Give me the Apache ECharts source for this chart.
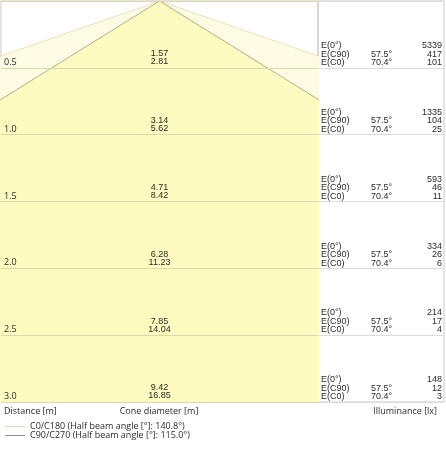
<!DOCTYPE html>
<html><head><meta charset="utf-8">
<script src="https://cdn.jsdelivr.net/npm/echarts@6/dist/echarts.min.js"></script>
<style>html,body{margin:0;padding:0;background:#fff}#c{width:446px;height:450px}</style>
</head><body><div id="c"></div>
<script>
const distances = [0.5, 1.0, 1.5, 2.0, 2.5, 3.0];
const coneDiamC90 = [1.57, 3.14, 4.71, 6.28, 7.85, 9.42];
const coneDiamC0 = [2.81, 5.62, 8.42, 11.23, 14.04, 16.85];
const illumCenter = [5339, 1335, 593, 334, 214, 148];
const illumC90 = [417, 104, 46, 26, 17, 12];
const illumC0 = [101, 25, 11, 6, 4, 3];
const halfAngleC90 = 57.5;
const halfAngleC0 = 70.4;
const beamAngleC0 = 140.8;
const beamAngleC90 = 115.0;
const rowLabels = ['E(0°)', 'E(C90)', 'E(C0)'];
const legendNames = [
  'C0/C180 (Half beam angle [°]: ' + beamAngleC0.toFixed(1) + '°)',
  'C90/C270 (Half beam angle [°]: ' + beamAngleC90.toFixed(1) + '°)'
];

const FONT = '"Open Sans"';
const TXT = '#2b2b2b';
const last = distances.length - 1;
const maxD = distances[last];
const wC0 = coneDiamC0[last] / 2, wC90 = coneDiamC90[last] / 2;
const xHalf = 1.155;

const chart = echarts.init(document.getElementById('c'));
chart.setOption({
  animation: false,
  textStyle: {fontFamily: FONT},
  grid: [
    {left: 1, right: 128, top: 1, bottom: 48, show: true, borderColor: '#c9c9c9', borderWidth: 1, backgroundColor: 'transparent'},
    {left: 318, right: 2, top: 1, bottom: 48, show: true, borderColor: '#c9c9c9', borderWidth: 1}
  ],
  xAxis: [
    {gridIndex: 0, type: 'value', min: -xHalf, max: xHalf, show: false},
    {gridIndex: 1, type: 'value', min: 0, max: 1, show: false}
  ],
  yAxis: [
    {gridIndex: 0, type: 'value', min: 0, max: maxD, interval: 0.5, inverse: true, z: 5,
     axisLine: {show: false}, axisTick: {show: false},
     splitLine: {show: true, lineStyle: {color: '#dcd8ac', width: 1}},
     axisLabel: {inside: true, margin: 3, verticalAlign: 'bottom', lineHeight: 11, fontSize: 9, color: TXT, fontFamily: FONT,
       showMaxLabel: true, formatter: v => v === 0 ? '' : v.toFixed(1)}},
    {gridIndex: 1, type: 'value', min: 0, max: maxD, interval: 0.5, inverse: true,
     axisLine: {show: false}, axisTick: {show: false}, axisLabel: {show: false},
     splitLine: {show: true, lineStyle: {color: '#dcdcdc', width: 1}}}
  ],
  legend: {
    orient: 'vertical', left: 5, top: 422, padding: 0, itemGap: 0, itemWidth: 20, itemHeight: 1, icon: 'rect',
    textStyle: {fontSize: 9, lineHeight: 7.5, color: TXT, fontFamily: FONT},
    data: [
      {name: legendNames[0], itemStyle: {color: '#f3d2b2'}},
      {name: legendNames[1], itemStyle: {color: '#8c8c8c'}}
    ]
  },
  series: [
    {name: legendNames[0], type: 'line', xAxisIndex: 0, yAxisIndex: 0, symbol: 'none', clip: true,
     data: [[-wC0, maxD], [0, 0], [wC0, maxD]],
     lineStyle: {color: '#ede0b8', width: 1}, itemStyle: {color: '#f3d2b2'},
     areaStyle: {origin: 'end', color: '#fdfbe3', opacity: 1}, z: 2},
    {name: legendNames[1], type: 'line', xAxisIndex: 0, yAxisIndex: 0, symbol: 'none', clip: true,
     data: [[-wC90, maxD], [0, 0], [wC90, maxD]],
     lineStyle: {color: '#b3b08c', width: 1}, itemStyle: {color: '#8c8c8c'},
     areaStyle: {origin: 'end', color: '#fdfbbf', opacity: 1}, z: 3},
    {type: 'custom', xAxisIndex: 0, yAxisIndex: 0, z: 6, silent: true,
     data: distances.map((d, i) => [0, d, coneDiamC90[i], coneDiamC0[i]]),
     renderItem: (params, api) => {
       const p = api.coord([api.value(0), api.value(1)]);
       return {type: 'text', x: p[0], y: p[1] - 2, style: {
         text: api.value(2).toFixed(2) + '\n' + api.value(3).toFixed(2),
         align: 'center', verticalAlign: 'bottom', fontSize: 9, lineHeight: 8, fill: TXT, font: '9px ' + FONT}};
     }},
    {type: 'custom', xAxisIndex: 1, yAxisIndex: 1, z: 6, silent: true,
     data: distances.map((d, i) => [d, illumCenter[i], illumC90[i], illumC0[i]]),
     renderItem: (params, api) => {
       const d = api.value(0);
       const pL = api.coord([0, d]);
       const pR = api.coord([1, d]);
       const st = {fontSize: 9, lineHeight: 8.5, fill: TXT, verticalAlign: 'bottom', font: '9px ' + FONT};
       return {type: 'group', children: [
         {type: 'text', x: pL[0] + 3, y: pL[1] - 1, style: Object.assign({}, st, {text: rowLabels.join('\n'), align: 'left'})},
         {type: 'text', x: pL[0] + 53, y: pL[1] - 1, style: Object.assign({}, st, {text: halfAngleC90.toFixed(1) + '°\n' + halfAngleC0.toFixed(1) + '°', align: 'left'})},
         {type: 'text', x: pR[0] - 2, y: pL[1] - 1, style: Object.assign({}, st, {text: api.value(1) + '\n' + api.value(2) + '\n' + api.value(3), align: 'right'})}
       ]};
     }}
  ],
  graphic: [
    {type: 'text', x: 4, y: 411, style: {text: 'Distance [m]', fill: TXT, align: 'left', verticalAlign: 'middle', font: '9px ' + FONT}},
    {type: 'text', x: 159, y: 411, style: {text: 'Cone diameter [m]', fill: TXT, align: 'center', verticalAlign: 'middle', font: '9px ' + FONT}},
    {type: 'text', x: 437, y: 411, style: {text: 'Illuminance [lx]', fill: TXT, align: 'right', verticalAlign: 'middle', font: '9px ' + FONT}}
  ]
});
</script></body></html>
